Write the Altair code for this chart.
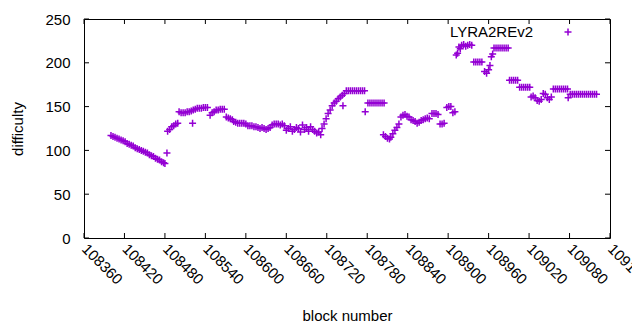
import altair as alt
import pandas as pd

# ---- data ----
blocks = [
    108400, 108403, 108406, 108409, 108412, 108415, 108418, 108421, 108424, 108427,
    108430, 108433, 108436, 108439, 108442, 108445, 108448, 108451, 108454, 108457,
    108460, 108463, 108466, 108469, 108472, 108475, 108478, 108480,
    108483, 108484, 108487, 108490, 108493, 108496, 108499,
    108501, 108504, 108507, 108510, 108513, 108516, 108519, 108521,
    108522, 108525, 108528, 108531, 108534, 108537, 108540, 108543, 108547,
    108550, 108553, 108556, 108559, 108562, 108565, 108568,
    108571, 108574, 108577, 108580, 108582, 108585, 108588, 108591, 108594, 108597, 108600,
    108603, 108606, 108609, 108612, 108615, 108618, 108621, 108624, 108627, 108630, 108633, 108636,
    108639, 108642, 108645, 108648, 108651, 108654, 108657,
    108660, 108663, 108666, 108669, 108672, 108675, 108678, 108681, 108684, 108687, 108690, 108693,
    108696, 108699, 108702, 108705, 108708, 108711,
    108713, 108716, 108719, 108722, 108725, 108728, 108731, 108734, 108737, 108740, 108743, 108744, 108746,
    108749, 108752, 108755, 108758, 108761, 108764, 108767, 108770, 108773, 108776, 108777,
    108781, 108784, 108787, 108790, 108793, 108796, 108799, 108802, 108805,
    108804, 108807, 108810, 108813, 108815, 108818, 108821, 108824, 108827,
    108830, 108833, 108836, 108839, 108842, 108845, 108848, 108851, 108854, 108857, 108860, 108863,
    108866, 108869, 108872, 108876, 108879, 108882, 108885, 108888, 108891, 108894,
    108898, 108901, 108904, 108907, 108910,
    108912, 108914, 108916, 108918, 108920, 108923, 108926, 108929, 108932, 108935,
    108938, 108941, 108944, 108947, 108950, 108954, 108957, 108960, 108962, 108964, 108966,
    108968, 108971, 108974, 108977, 108980, 108983, 108986, 108989,
    108991, 108994, 108997, 109000, 109003,
    109006, 109009, 109012, 109015, 109018, 109021,
    109023, 109026, 109029, 109032, 109035, 109038, 109041, 109044, 109047, 109050, 109053,
    109056, 109059, 109062, 109065, 109068, 109071, 109074, 109077, 109078,
    109081, 109084, 109087, 109090, 109093, 109096, 109099, 109102, 109105, 109108,
    109111, 109114, 109117, 109120,
]
difficulty = [
    117, 116, 115, 114, 113, 112, 111, 110, 108, 107,
    106, 105, 103, 102, 101, 100, 99, 98, 97, 95,
    94, 93, 91, 90, 89, 87, 86, 85,
    97, 122, 124, 127, 128, 130, 131,
    144, 143, 143, 143, 144, 144, 145, 131,
    146, 147, 148, 148, 148, 149, 149, 149, 140,
    143, 144, 146, 146, 147, 147, 147,
    138, 137, 136, 135, 133, 132, 131, 131, 131, 131, 130,
    128, 128, 128, 127, 127, 126, 125, 126, 125, 124, 125, 126,
    129, 130, 130, 130, 129, 130, 128,
    123, 125, 127, 122, 124, 126, 125, 121, 129, 124, 126, 122,
    127, 124, 122, 120, 121, 118,
    125, 130, 136, 142, 146, 151, 154, 156, 159, 161, 163, 151, 165,
    168, 168, 168, 168, 168, 168, 168, 168, 168, 168, 144,
    154, 154, 154, 154, 154, 154, 154, 154, 154,
    118, 116, 114, 113, 115, 119, 123, 126, 130,
    138, 140, 141, 139, 138, 135, 134, 133, 131, 132, 134, 135,
    136, 137, 136, 142, 142, 142, 141, 130, 130, 131,
    149, 150, 150, 143, 144,
    209, 211, 218, 216, 220, 221, 219, 220, 221, 220,
    201, 201, 201, 201, 201, 190, 188, 192, 197, 207, 210,
    217, 217, 217, 217, 217, 217, 217, 217,
    180, 180, 180, 180, 180,
    172, 172, 172, 172, 172, 172,
    161, 162, 160, 157, 156, 158, 165, 164, 160, 158, 161,
    170, 170, 170, 170, 170, 170, 170, 170, 160,
    164, 164, 164, 164, 164, 164, 164, 164, 164, 164,
    164, 164, 164, 164,
]
x_ticks = [108360, 108420, 108480, 108540, 108600, 108660, 108720,
           108780, 108840, 108900, 108960, 109020, 109080, 109140]
y_ticks = [0, 50, 100, 150, 200, 250]
series_name = "LYRA2REv2"
x_title = "block number"
y_title = "difficulty"

# ---- styling ----
COLOR = "#9400D3"
FONT = "Liberation Sans"
FS = 15
W, H = 526, 219
TICK = 5
PLUS = "M-1,0H1M0,-1V1"

df = pd.DataFrame({"block": blocks, "difficulty": difficulty})
xt = pd.DataFrame({"block": x_ticks})
yt = pd.DataFrame({"difficulty": y_ticks})
lg = pd.DataFrame({"label": [series_name]})

xscale = alt.Scale(domain=[x_ticks[0], x_ticks[-1]], nice=False, zero=False)
yscale = alt.Scale(domain=[y_ticks[0], y_ticks[-1]], nice=False)

xaxis = alt.Axis(values=x_ticks, format="d", labelAngle=45, labelAlign="left",
                 labelBaseline="middle", labelPadding=8, ticks=False, domain=False,
                 grid=False, labelFontSize=FS, labelFont=FONT, labelColor="black",
                 labelOverlap=False, labelBound=False, labelFlush=False,
                 title=x_title, titleFontSize=FS, titleFont=FONT, titleFontWeight="normal",
                 titleColor="black", titleX=W / 2, titleY=77, titleAlign="center",
                 titleBaseline="middle")
yaxis = alt.Axis(values=y_ticks, format="d", ticks=False, domain=False, grid=False,
                 labelPadding=14, labelFontSize=FS, labelFont=FONT, labelColor="black",
                 title=y_title, titleFontSize=FS, titleFont=FONT, titleFontWeight="normal",
                 titleColor="black", titleX=-67, titleY=H / 2, titleAngle=270,
                 titleAlign="center", titleBaseline="middle")

X = alt.X("block:Q", scale=xscale, axis=xaxis)
Y = alt.Y("difficulty:Q", scale=yscale, axis=yaxis)

points = alt.Chart(df).mark_point(shape=PLUS, filled=False, size=49, strokeWidth=1.5,
                                  color=COLOR, opacity=1).encode(x=X, y=Y)

xt_bottom = alt.Chart(xt).mark_rule(color="black", strokeWidth=1).encode(
    x=X, y=alt.value(H), y2=alt.value(H - TICK))
xt_top = alt.Chart(xt).mark_rule(color="black", strokeWidth=1).encode(
    x=X, y=alt.value(0), y2=alt.value(TICK))
yt_left = alt.Chart(yt).mark_rule(color="black", strokeWidth=1).encode(
    y=Y, x=alt.value(0), x2=alt.value(TICK))
yt_right = alt.Chart(yt).mark_rule(color="black", strokeWidth=1).encode(
    y=Y, x=alt.value(W), x2=alt.value(W - TICK))

legend_text = alt.Chart(lg).mark_text(align="right", baseline="middle", font=FONT,
                                      fontSize=FS, color="black").encode(
    text="label:N", x=alt.value(449), y=alt.value(13))
legend_sym = alt.Chart(lg).mark_point(shape=PLUS, filled=False, size=49, strokeWidth=1.5,
                                      color=COLOR, opacity=1).encode(
    x=alt.value(484), y=alt.value(13))

chart = alt.layer(points, xt_bottom, xt_top, yt_left, yt_right, legend_text, legend_sym).properties(
    width=W, height=H,
    autosize=alt.AutoSizeParams(type="none"),
    padding={"left": 76, "top": 11, "right": 22, "bottom": 84},
    background="white",
).configure_view(stroke="black", strokeWidth=1)

chart.save("out.html", embed_options={"renderer": "svg", "actions": False})
